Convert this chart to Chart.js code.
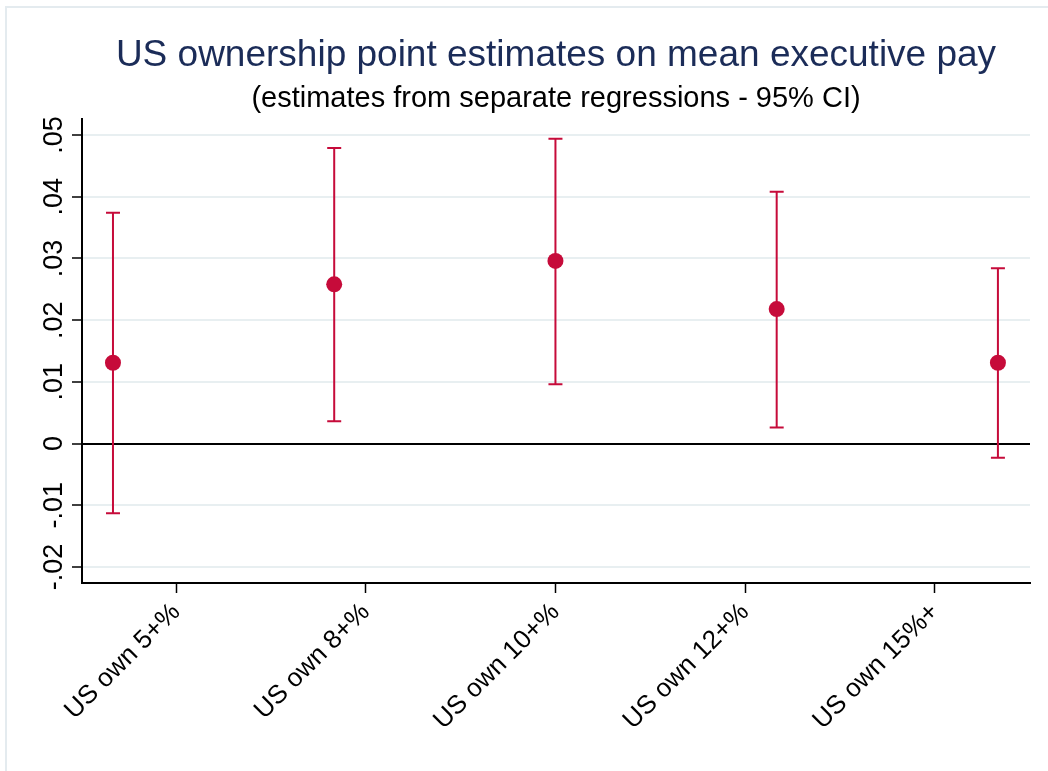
<!DOCTYPE html>
<html>
<head>
<meta charset="utf-8">
<script src="https://cdn.jsdelivr.net/npm/chart.js@4.4.1/dist/chart.umd.min.js"></script>
<style>
  html, body { margin: 0; padding: 0; background: #fff; }
  #wrap { width: 1048px; height: 771px; }
</style>
</head>
<body>
<div id="wrap"><canvas id="chartCI" width="1048" height="771"></canvas></div>
<script>
// data
const categories = ['US own 5+%', 'US own 8+%', 'US own 10+%', 'US own 12+%', 'US own 15%+'];
const xPos = [1, 2, 3, 4, 5];
const estimates = [0.0131, 0.0258, 0.0296, 0.0218, 0.0131];
const ciLow = [-0.0113, 0.0036, 0.0096, 0.0026, -0.0023];
const ciHigh = [0.0374, 0.0479, 0.0494, 0.0408, 0.0284];
const xTickPos = [1.286, 2.143, 3.0, 3.857, 4.714];
const yTicks = [-0.02, -0.01, 0, 0.01, 0.02, 0.03, 0.04, 0.05];
const yTickLabels = ['-.02', '-.01', '0', '.01', '.02', '.03', '.04', '.05'];

const FONT = 'Liberation Sans, Arial, Helvetica, sans-serif';
const RED = '#c60b3a';

// light frame round the graph region
const frame = {
  id: 'frame',
  beforeDraw(chart) {
    const ctx = chart.ctx;
    ctx.save();
    ctx.fillStyle = '#fff';
    ctx.fillRect(0, 0, chart.width, chart.height);
    ctx.strokeStyle = '#e4ebef';
    ctx.lineWidth = 2;
    ctx.strokeRect(6, 7, chart.width + 20, chart.height + 20);
    ctx.restore();
  }
};

// capped CI bars
const errorBars = {
  id: 'errorBars',
  beforeDatasetsDraw(chart) {
    const ctx = chart.ctx;
    const xs = chart.scales.x, ys = chart.scales.y;
    ctx.save();
    ctx.strokeStyle = RED;
    ctx.lineWidth = 2;
    xPos.forEach((v, i) => {
      const x = xs.getPixelForValue(v);
      const lo = ys.getPixelForValue(ciLow[i]);
      const hi = ys.getPixelForValue(ciHigh[i]);
      ctx.beginPath();
      ctx.moveTo(x, lo); ctx.lineTo(x, hi);
      ctx.moveTo(x - 7, lo); ctx.lineTo(x + 7, lo);
      ctx.moveTo(x - 7, hi); ctx.lineTo(x + 7, hi);
      ctx.stroke();
    });
    ctx.restore();
  }
};

// vertical y tick labels (stata style)
const yLabels = {
  id: 'yLabels',
  afterDraw(chart) {
    const ctx = chart.ctx;
    const ys = chart.scales.y;
    ctx.save();
    ctx.fillStyle = '#000';
    ctx.font = '27px ' + FONT;
    ctx.textAlign = 'center';
    ctx.textBaseline = 'alphabetic';
    yTicks.forEach((v, i) => {
      const y = ys.getPixelForValue(v);
      ctx.save();
      ctx.translate(62, y);
      ctx.rotate(-Math.PI / 2);
      ctx.fillText(yTickLabels[i], 0, 0);
      ctx.restore();
    });
    ctx.restore();
  }
};

const ctx = document.getElementById('chartCI');
const chartCI = new Chart(ctx, {
  type: 'scatter',
  data: {
    datasets: [{
      data: xPos.map((x, i) => ({ x: x, y: estimates[i] })),
      backgroundColor: RED,
      borderWidth: 0,
      pointRadius: 8,
      pointHoverRadius: 8
    }]
  },
  options: {
    responsive: false,
    animation: false,
    layout: { padding: { left: 0, right: 18, top: 0, bottom: 0 } },
    plugins: {
      legend: { display: false },
      tooltip: { enabled: false },
      title: {
        display: true,
        fullSize: false,
        text: 'US ownership point estimates on mean executive pay',
        color: '#1b2c58',
        font: { family: FONT, size: 37, weight: 'normal', lineHeight: 1 },
        padding: { top: 37, bottom: 0 }
      },
      subtitle: {
        display: true,
        fullSize: false,
        text: '(estimates from separate regressions - 95% CI)',
        color: '#000',
        font: { family: FONT, size: 29, weight: 'normal', lineHeight: 1 },
        padding: { top: 10, bottom: 6 }
      }
    },
    scales: {
      x: {
        type: 'linear',
        min: 0.86,
        max: 5.145,
        afterBuildTicks: (scale) => { scale.ticks = xTickPos.map(v => ({ value: v })); },
        afterFit: (scale) => { scale.height = 188; },
        border: { color: '#000', width: 2 },
        grid: {
          drawOnChartArea: false,
          drawTicks: true,
          tickLength: 10,
          tickColor: '#000',
          tickWidth: 1.5
        },
        ticks: {
          autoSkip: false,
          minRotation: 45,
          maxRotation: 45,
          padding: 4,
          color: '#000',
          font: { family: FONT, size: 26 },
          callback: (v, i) => categories[i]
        }
      },
      y: {
        min: -0.0226,
        max: 0.0526,
        afterBuildTicks: (scale) => { scale.ticks = yTicks.map(v => ({ value: v })); },
        afterFit: (scale) => { scale.width = 82; },
        border: { color: '#000', width: 2 },
        grid: {
          color: (c) => (c.tick && Math.abs(c.tick.value) < 1e-9) ? '#000' : '#e8eff1',
          lineWidth: 2,
          tickLength: 10,
          tickColor: '#000',
          tickWidth: 1.5
        },
        ticks: { display: false }
      }
    }
  },
  plugins: [frame, errorBars, yLabels]
});
</script>
</body>
</html>
